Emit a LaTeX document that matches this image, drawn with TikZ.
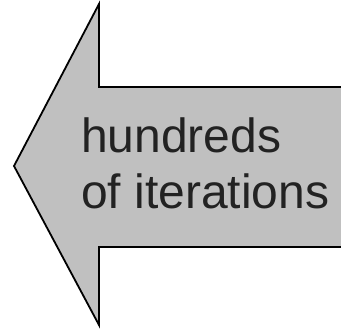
\documentclass[tikz,border=0pt]{standalone}
\usepackage{fontspec}
\setmainfont{Liberation Sans}
\definecolor{arrowgray}{RGB}{192,192,192}
\definecolor{textgray}{RGB}{34,34,34}
\begin{document}
\begin{tikzpicture}[x=1pt, y=1pt,
    bigarrow/.style = {draw = black, line width = 1.8pt, line join = miter},
    arrowtext/.style = {anchor = base west, inner sep = 0pt, align = left, text = textgray,
        font = \fontsize{48}{56}\selectfont}]
    \useasboundingbox (0, 0) rectangle (341, 329);
    % arrow body, open on the right
    \fill[arrowgray] (341, 242) -- (99, 242) -- (99, 325) -- (14, 163) -- (99, 4) -- (99, 82) -- (341, 82) -- cycle;
    \draw[bigarrow] (341, 242) -- (99, 242) -- (99, 325) -- (14, 163) -- (99, 4) -- (99, 82) -- (341, 82);
    \node[arrowtext] (label) at (81, 120) {hundreds\\of iterations};
\end{tikzpicture}
\end{document}
